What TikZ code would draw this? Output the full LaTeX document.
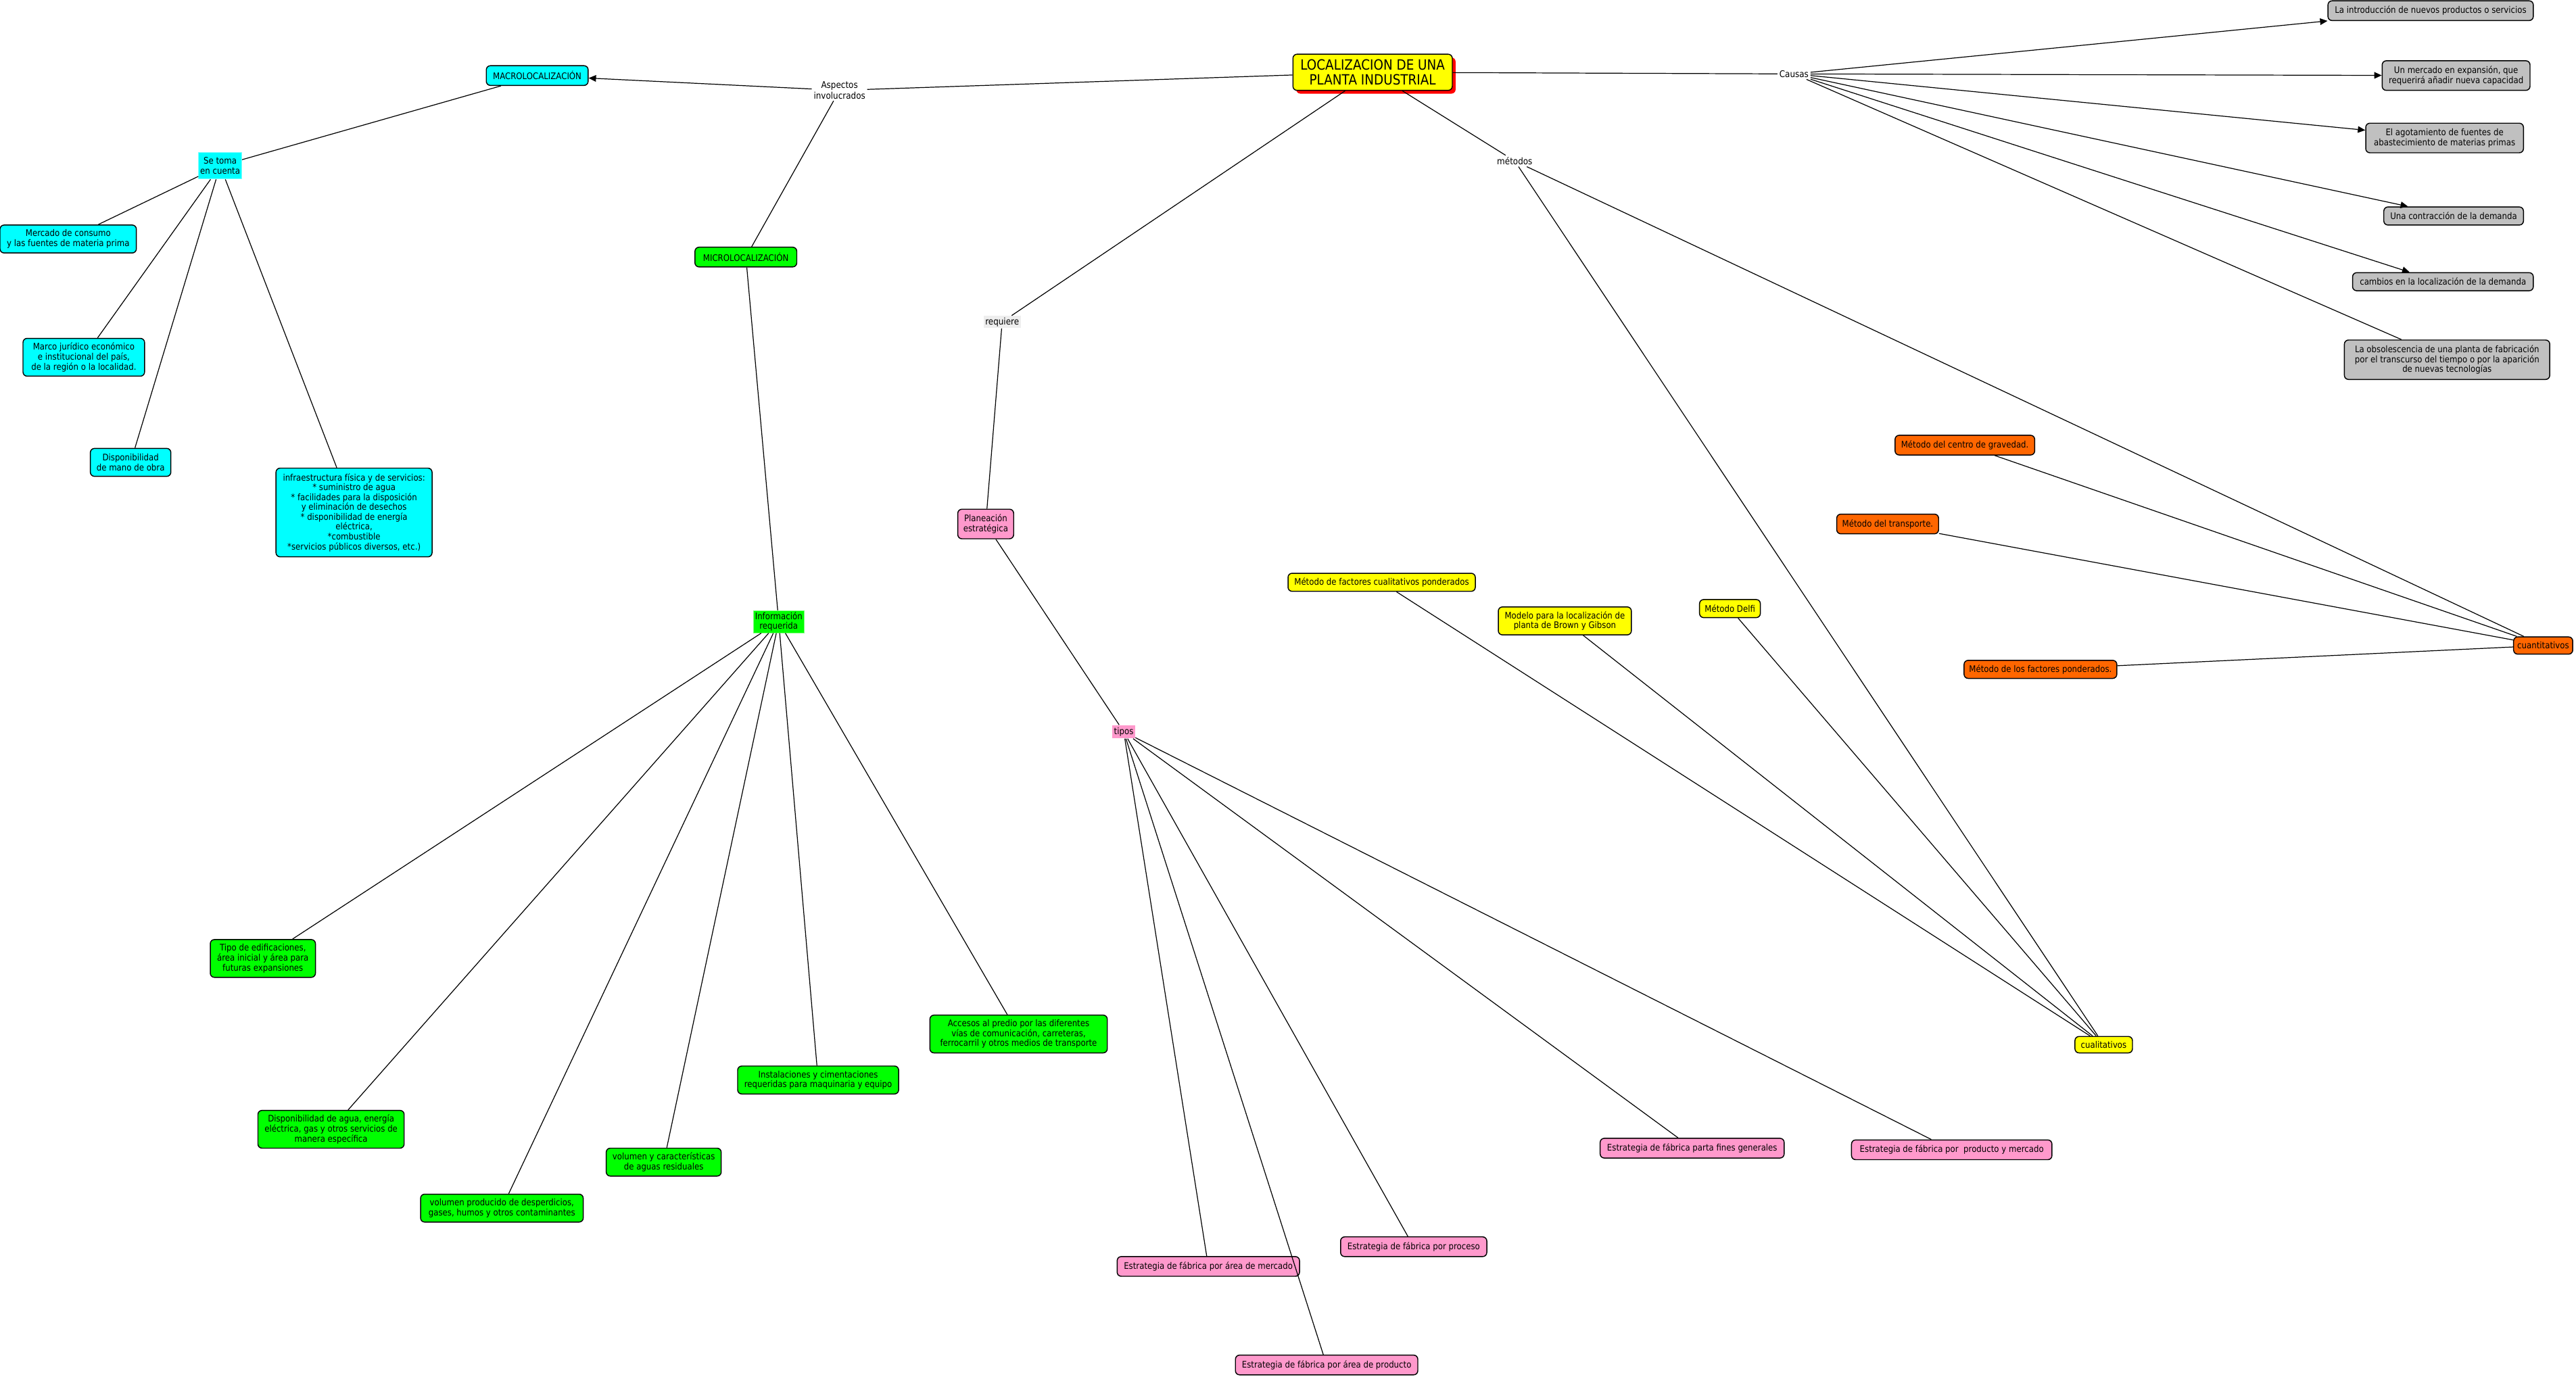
\documentclass[tikz,border=0pt]{standalone}
\usepackage{fontspec}
\setmainfont[FakeStretch=0.88]{DejaVu Sans}
\usetikzlibrary{arrows.meta,shadows}
\definecolor{cyanc}{HTML}{00FFFF}
\definecolor{greenc}{HTML}{00FF00}
\definecolor{pinkc}{HTML}{FF99CC}
\definecolor{orangec}{HTML}{FF6600}
\definecolor{yellowc}{HTML}{FFFF00}
\definecolor{grayc}{HTML}{C0C0C0}
\definecolor{reqbg}{HTML}{EEEEEE}
\newcommand\fsbox{\fontsize{5.5}{6}\selectfont}
\newcommand\fslbl{\fontsize{5.6}{6.2}\selectfont}
\newcommand\fstitle{\fontsize{8.6}{9}\selectfont}
\tikzset{
  box/.style={draw=black, line width=0.6pt, rounded corners=2.5pt, align=center,
              inner xsep=2pt, inner ysep=1pt, font=\fsbox},
  flat/.style={align=center, inner xsep=1pt, inner ysep=1pt, font=\fsbox},
  lbl/.style={align=center, inner sep=1pt, font=\fslbl, fill=white},
  con/.style={draw=black, line width=0.5pt},
  arr/.style={con, -{Triangle[length=4.5pt,width=4pt]}},
}
\begin{document}
\begin{tikzpicture}[x=1pt,y=-1pt]
\useasboundingbox (0,0) rectangle (1568,838);

% ---- central node ----
\node[box, fill=yellowc, font=\fstitle, minimum width=97pt, minimum height=22pt,
      drop shadow={shadow xshift=2pt, shadow yshift=-2pt, fill=red, opacity=1}]
      (title) at (835.5,44) {LOCALIZACION DE UNA\\PLANTA INDUSTRIAL};

% ---- linking phrases ----
\node[lbl] (causas) at (1092,45) {Causas};
\node[lbl] (aspectos) at (511,55) {Aspectos\\involucrados};
\node[lbl] (metodos) at (922,98) {métodos};
\node[lbl, fill=reqbg] (requiere) at (610,196) {requiere};

% ---- macro branch ----
\node[box, fill=cyanc, minimum width=62pt, minimum height=12pt] (macro) at (327,46) {MACROLOCALIZACIÓN};
\node[flat, fill=cyanc, draw=cyanc!50, minimum width=26pt, minimum height=16pt] (setoma) at (134,101) {Se toma\\en cuenta};
\node[box, fill=cyanc, minimum width=83pt, minimum height=17pt] (mercado) at (41.5,145.5) {Mercado de consumo\\y las fuentes de materia prima};
\node[box, fill=cyanc, minimum width=74pt, minimum height=23pt] (marco) at (51,217.5) {Marco jurídico económico\\e institucional del país,\\de la región o la localidad.};
\node[box, fill=cyanc, minimum width=49pt, minimum height=17pt] (dispmano) at (79.5,281.5) {Disponibilidad\\de mano de obra};
\node[box, fill=cyanc, minimum width=95pt, minimum height=54pt] (infra) at (215.5,312) {infraestructura física y de servicios:\\* suministro de agua\\* facilidades para la disposición\\y eliminación de desechos\\* disponibilidad de energía\\eléctrica,\\*combustible\\*servicios públicos diversos, etc.)};

% ---- micro branch ----
\node[box, fill=greenc, minimum width=62pt, minimum height=12pt] (micro) at (454,156.5) {MICROLOCALIZACIÓN};
\node[flat, fill=greenc, draw=greenc!50, minimum width=30pt, minimum height=12pt] (info) at (474,378.5) {Información\\requerida};
\node[box, fill=greenc, minimum width=64pt, minimum height=23pt] (tipo) at (160,583.5) {Tipo de edificaciones,\\área inicial y área para\\futuras expansiones};
\node[box, fill=greenc, minimum width=89pt, minimum height=23pt] (dispagua) at (201.5,687.5) {Disponibilidad de agua, energía\\eléctrica, gas y otros servicios de\\manera específica};
\node[box, fill=greenc, minimum width=99pt, minimum height=17pt] (volprod) at (305.5,735.5) {volumen producido de desperdicios,\\gases, humos y otros contaminantes};
\node[box, fill=greenc, minimum width=70pt, minimum height=17pt] (volagua) at (404,707.5) {volumen y características\\de aguas residuales};
\node[box, fill=greenc, minimum width=98pt, minimum height=17pt] (instal) at (498,657.5) {Instalaciones y cimentaciones\\requeridas para maquinaria y equipo};
\node[box, fill=greenc, minimum width=108pt, minimum height=23pt] (accesos) at (620,629.5) {Accesos al predio por las diferentes\\vías de comunicación, carreteras,\\ferrocarril y otros medios de transporte};

% ---- planeacion branch ----
\node[box, fill=pinkc, minimum width=34pt, minimum height=18pt] (planea) at (600,319) {Planeación\\estratégica};
\node[flat, fill=pinkc, minimum width=13pt, minimum height=8pt] (tipos) at (684,445.5) {tipos};
\node[box, fill=pinkc, minimum width=111pt, minimum height=12pt] (emerc) at (735.5,771) {Estrategia de fábrica por área de mercado};
\node[box, fill=pinkc, minimum width=111pt, minimum height=12pt] (eprod) at (807.5,831) {Estrategia de fábrica por área de producto};
\node[box, fill=pinkc, minimum width=89pt, minimum height=12pt] (eproc) at (860.5,759) {Estrategia de fábrica por proceso};
\node[box, fill=pinkc, minimum width=112pt, minimum height=12pt] (egen) at (1030,699) {Estrategia de fábrica parta fines generales};
\node[box, fill=pinkc, minimum width=122pt, minimum height=12pt] (eprodm) at (1188,700) {Estrategia de fábrica por\ \ producto y mercado};

% ---- causes ----
\node[box, fill=grayc, minimum width=125pt, minimum height=12pt] (c1) at (1479.5,6.5) {La introducción de nuevos productos o servicios};
\node[box, fill=grayc, minimum width=90pt, minimum height=18pt] (c2) at (1495,46) {Un mercado en expansión, que\\requerirá añadir nueva capacidad};
\node[box, fill=grayc, minimum width=96pt, minimum height=18pt] (c3) at (1488,84) {El agotamiento de fuentes de\\abastecimiento de materias primas};
\node[box, fill=grayc, minimum width=85pt, minimum height=11pt] (c4) at (1493.5,131.5) {Una contracción de la demanda};
\node[box, fill=grayc, minimum width=110pt, minimum height=11pt] (c5) at (1487,171.5) {cambios en la localización de la demanda};
\node[box, fill=grayc, minimum width=125pt, minimum height=24pt] (c6) at (1489.5,219) {La obsolescencia de una planta de fabricación\\por el transcurso del tiempo o por la aparición\\de nuevas tecnologías};

% ---- quantitative methods ----
\node[box, fill=orangec, minimum width=85pt, minimum height=12pt] (m1) at (1196,271) {Método del centro de gravedad.};
\node[box, fill=orangec, minimum width=62pt, minimum height=12pt] (m2) at (1149,319) {Método del transporte.};
\node[box, fill=orangec, minimum width=93pt, minimum height=11pt] (m3) at (1242,407.5) {Método de los factores ponderados.};
\node[box, fill=orangec, minimum width=36pt, minimum height=10.5pt] (cuant) at (1548,393) {cuantitativos};

% ---- qualitative methods ----
\node[box, fill=yellowc, minimum width=114pt, minimum height=11pt] (y1) at (841,354.5) {Método de factores cualitativos ponderados};
\node[box, fill=yellowc, minimum width=81pt, minimum height=17pt] (y2) at (952.5,378) {Modelo para la localización de\\planta de Brown y Gibson};
\node[box, fill=yellowc, minimum width=37pt, minimum height=11pt] (y3) at (1053,370.5) {Método Delfi};
\node[box, fill=yellowc, minimum width=35pt, minimum height=10pt] (cual) at (1280.5,636) {cualitativos};

% ---- arrival points on the cause boxes ----
\coordinate (c4in) at ([xshift=15pt]c4.north west);
\coordinate (c5in) at ([xshift=35pt]c5.north west);
\coordinate (c6in) at ([xshift=35pt]c6.north west);

% ---- connectors ----
\draw[con] (title) -- (aspectos);
\draw[arr] (aspectos) -- (macro);
\draw[con] (aspectos) -- (micro);
\draw[con] (title) -- (causas);
\draw[arr] (causas) -- (c1);
\draw[arr] (causas) -- (c2);
\draw[arr] (causas) -- (c3);
\draw[arr] (causas) -- (c4in);
\draw[arr] (causas) -- (c5in);
\draw[con] (causas) -- (c6in);
\draw[con] (title) -- (requiere);
\draw[con] (requiere) -- (planea);
\draw[con] (title) -- (metodos);
\draw[con] (metodos) -- (cuant);
\draw[con] (metodos) -- (cual);

\draw[con] (macro) -- (setoma);
\foreach \n in {mercado,marco,dispmano,infra} \draw[con] (setoma) -- (\n);

\draw[con] (micro) -- (info);
\foreach \n in {tipo,dispagua,volprod,volagua,instal,accesos} \draw[con] (info) -- (\n);

\draw[con] (planea) -- (tipos);
\foreach \n in {emerc,eprod,eproc,egen,eprodm} \draw[con] (tipos) -- (\n);

\foreach \n in {m1,m2,m3} \draw[con] (\n) -- (cuant);
\foreach \n in {y1,y2,y3} \draw[con] (\n) -- (cual);
\end{tikzpicture}
\end{document}
